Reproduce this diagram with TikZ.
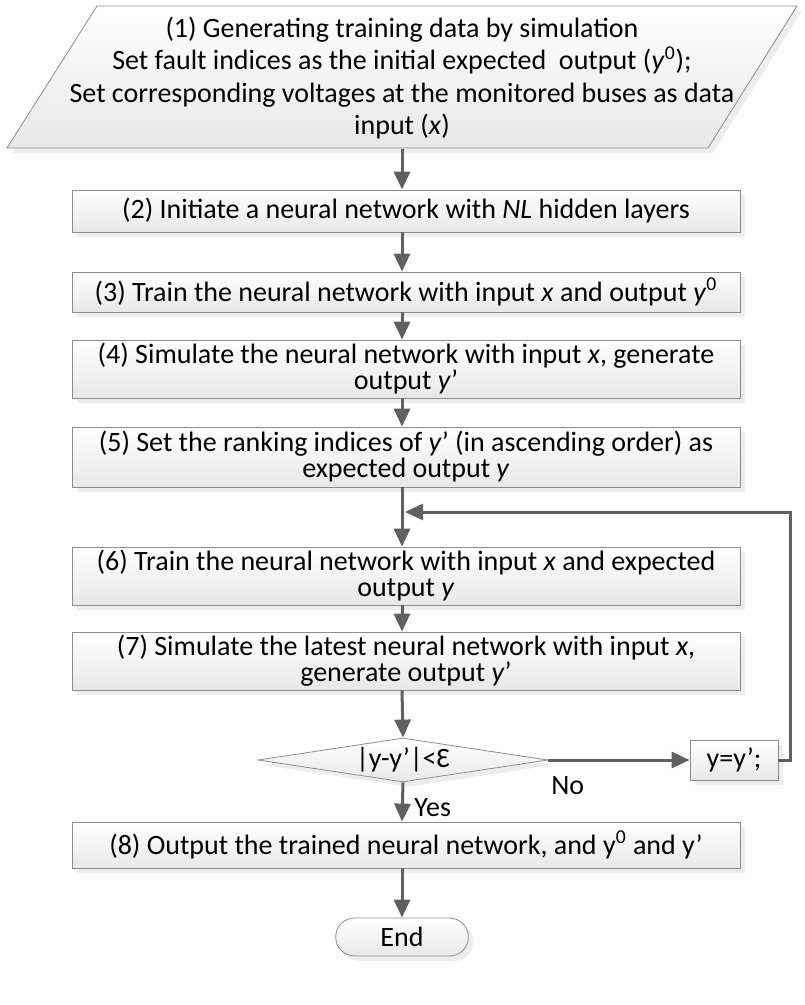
\documentclass[tikz,border=0pt]{standalone}
\usepackage{fontspec}
\setmainfont{Carlito}
\usetikzlibrary{shapes.geometric,shapes.misc,shadows,arrows.meta}
\definecolor{arrowgray}{HTML}{606060}
\definecolor{edgegray}{HTML}{8C8C8C}
\tikzset{
  shade box/.style={draw=edgegray, top color=white, bottom color=gray!18,
    general shadow={fill=gray!14, shadow xshift=2.5pt, shadow yshift=-2.5pt}},
  stepbox/.style={shade box, minimum width=334pt, align=center, inner sep=1pt,
    font=\fontsize{14}{13}\selectfont},
  flow/.style={draw=arrowgray, line width=1.5pt, -{Triangle[width=8pt,length=9pt]}},
  lbl/.style={font=\fontsize{14}{13}\selectfont}
}

\begin{document}
\begin{tikzpicture}[x=0.5pt,y=-0.5pt]
\useasboundingbox (0,0) rectangle (804,1005);
\path[shade box] (97,6) -- (797,6) -- (708,148) -- (7,148) -- cycle;
    \node[minimum width=300pt, minimum height=71pt, align=center, inner sep=0pt,
      font=\fontsize{14}{16.2}\selectfont] (s1) at (402,78)
      {(1) Generating training data by simulation\\
       Set fault indices as the initial expected\ \ output (\textit{y}\textsuperscript{0});\\
       Set corresponding voltages at the monitored buses as data\\
       input (\textit{x})};
    \node[stepbox, minimum height=21pt] (s2) at (406,211)
      {(2) Initiate a neural network with \textit{NL} hidden layers};
    \node[stepbox, minimum height=20pt] (s3) at (406,292)
      {(3) Train the neural network with input \textit{x} and output \textit{y}\textsuperscript{0}};
    \node[stepbox, minimum height=29pt] (s4) at (406,369)
      {(4) Simulate the neural network with input \textit{x}, generate\\ output \textit{y}’};
    \node[stepbox, minimum height=30pt] (s5) at (406,457)
      {(5) Set the ranking indices of \textit{y}’ (in ascending order) as\\ expected output \textit{y}};
    \node[stepbox, minimum height=29pt] (s6) at (406,576)
      {(6) Train the neural network with input \textit{x} and expected\\ output \textit{y}};
    \node[stepbox, minimum height=29pt] (s7) at (406,661)
      {(7) Simulate the latest neural network with input \textit{x},\\ generate output \textit{y}’};
    \node[diamond, shade box, aspect=6.6, minimum width=145pt, minimum height=22pt,
      inner sep=0pt, lbl] (dec) at (403,760) {|y-y'|<Ɛ};
    \node[shade box, minimum width=44pt, minimum height=20pt, lbl] (upd) at (734,760) {y=y';};
    \node[stepbox, minimum height=23pt] (s8) at (406,845)
      {(8) Output the trained neural network, and y\textsuperscript{0} and y’};
    \node[rounded rectangle, shade box, minimum width=73pt, minimum height=19pt, lbl]
      (stop) at (402,937) {End};
    \coordinate (join) at (405,512);
    \coordinate (loop) at (790,760);
    \draw[flow] (s1.south -| 402,0) -- (s2.north -| 402,0);
    \draw[flow] (s2.south -| 402,0) -- (s3.north -| 402,0);
    \draw[flow] (s3.south -| 402,0) -- (s4.north -| 402,0);
    \draw[flow] (s4.south -| 402,0) -- (s5.north -| 402,0);
    \draw[flow] (s5.south -| 402,0) -- (s6.north -| 402,0);
    \draw[flow] (s6.south -| 402,0) -- (s7.north -| 402,0);
    \draw[flow] (s7.south -| 402,0) -- (dec.north);
    \draw[flow] (dec.east) -- (upd.west);
    \node[lbl, anchor=west, inner sep=0pt] (no) at (551,786) {No};
    \draw[flow] (upd.east) -- (loop) |- (join);
    \draw[flow] (dec.south) -- (s8.north -| 402,0);
    \node[lbl, anchor=west, inner sep=0pt] (yes) at (414,808) {Yes};
    \draw[flow] (s8.south -| 402,0) -- (stop.north);
\end{tikzpicture}
\end{document}
